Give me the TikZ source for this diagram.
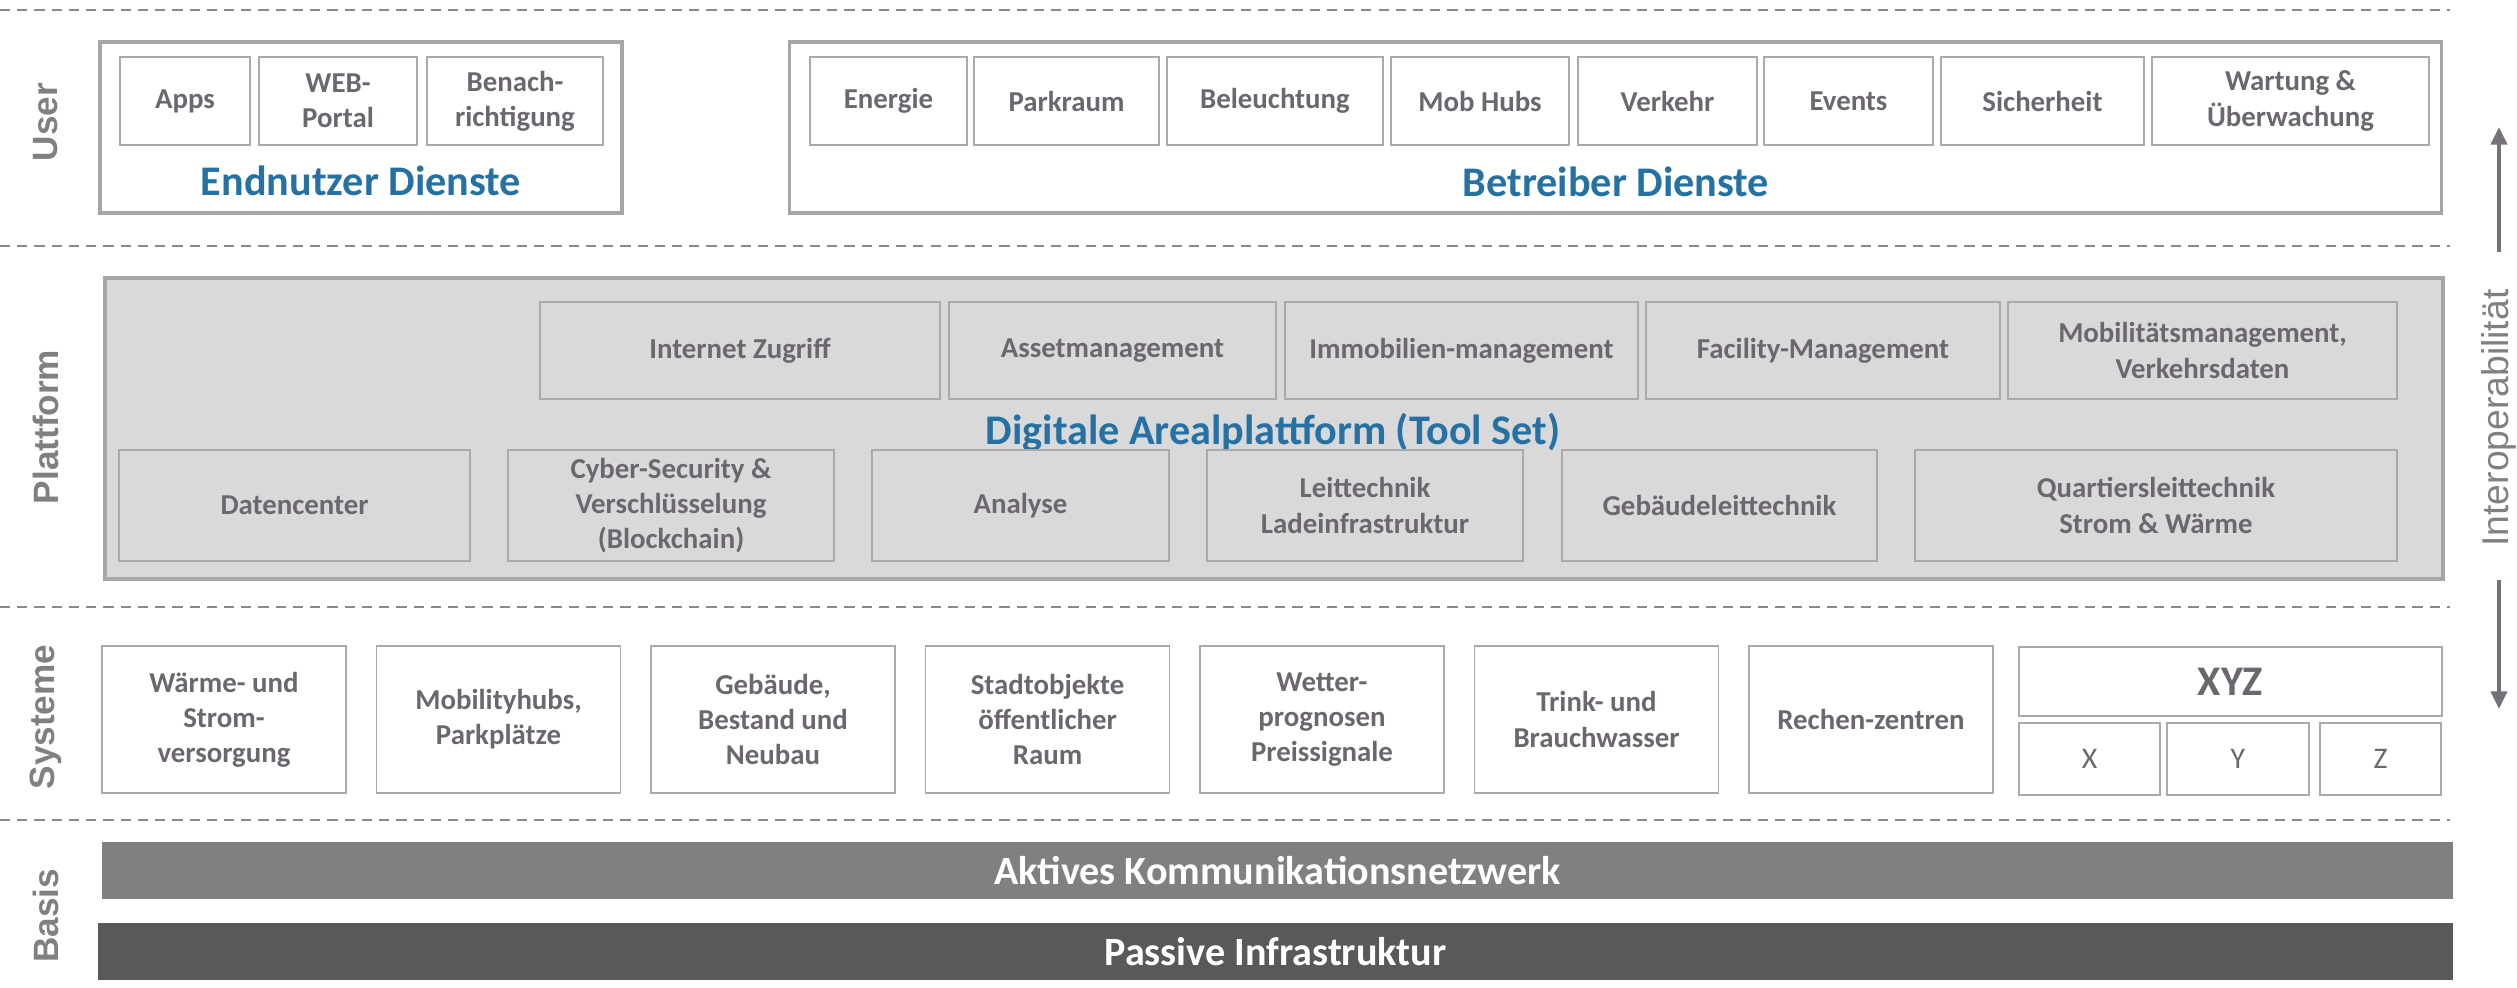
\documentclass[tikz,border=0pt]{standalone}
\usepackage{fontspec}
\setmainfont{Carlito}
\newfontfamily\arialfont{Liberation Sans}
\usetikzlibrary{arrows.meta}

\definecolor{txtgray}{RGB}{108,103,111}
\definecolor{framegray}{RGB}{166,166,166}
\definecolor{boxgray}{RGB}{170,170,170}
\definecolor{platfill}{RGB}{217,217,217}
\definecolor{headblue}{RGB}{38,113,163}
\definecolor{dashgray}{RGB}{137,137,137}
\definecolor{labelgray}{RGB}{128,128,128}
\definecolor{netgray}{RGB}{128,128,128}
\definecolor{infragray}{RGB}{89,89,89}
\definecolor{arrowgray}{RGB}{118,113,120}

\begin{document}
\begin{tikzpicture}[x=0.01cm,y=-0.01cm]
\tikzstyle{trenn}=[dashgray,line width=0.85pt,dash pattern=on 2.9pt off 2pt]
\tikzstyle{layerlabel}=[rotate=90,text=labelgray,font=\arialfont\bfseries\fontsize{10}{12}\selectfont]
\tikzstyle{outerbox}=[draw=framegray,line width=1.1pt,inner sep=0pt]
\tikzstyle{dienst}=[draw=boxgray,line width=0.5pt,fill=white,inner sep=0pt,align=center,text=txtgray,font=\bfseries\fontsize{8.2}{10}\selectfont]
\tikzstyle{tool}=[dienst,fill=platfill]
\tikzstyle{subbox}=[dienst,font=\fontsize{8.5}{10}\selectfont]
\tikzstyle{head}=[text=headblue,font=\bfseries\fontsize{12}{14}\selectfont]
\tikzstyle{bar}=[inner sep=0pt,text=white,font=\bfseries\fontsize{11.4}{13}\selectfont]
\tikzstyle{pfeil}=[arrowgray,line width=1.2pt,-{Triangle[length=5pt,width=4.5pt]}]

\useasboundingbox (0,0) rectangle (2517,988);

% layer separators
\foreach \yy in {10,246,607,820}
  \draw[trenn] (0,\yy) -- (2450,\yy);

\node[layerlabel] (lUser) at (46,122) {User};
\node[layerlabel] (lPlattform) at (46,427) {Plattform};
\node[layerlabel] (lSysteme) at (46,717) {Systeme};
\node[layerlabel] (lBasis) at (46,916) {Basis};

% user layer
\node[outerbox,minimum width=5.22cm,minimum height=1.71cm] (endnutzer) at (361,127.5) {};
\node[head] (endnutzerT) at (361,181) {Endnutzer Dienste};
\node[dienst,minimum width=1.30cm,minimum height=0.88cm] (apps) at (185,101) {Apps};
\node[dienst,minimum width=1.58cm,minimum height=0.88cm] (web) at (338,101) {WEB-\\Portal};
\node[dienst,minimum width=1.76cm,minimum height=0.88cm] (benach) at (515,101) {Benach-\\richtigung};

\node[outerbox,minimum width=16.51cm,minimum height=1.71cm] (betreiber) at (1615.5,127.5) {};
\node[head] (betreiberT) at (1616,182) {Betreiber Dienste};
\node[dienst,minimum width=1.57cm,minimum height=0.88cm] (energie) at (888.5,101) {Energie};
\node[dienst,minimum width=1.85cm,minimum height=0.88cm] (parkraum) at (1066.5,101) {Parkraum};
\node[dienst,minimum width=2.16cm,minimum height=0.88cm] (beleuchtung) at (1275,101) {Beleuchtung};
\node[dienst,minimum width=1.78cm,minimum height=0.88cm] (mobhubs) at (1480,101) {Mob Hubs};
\node[dienst,minimum width=1.79cm,minimum height=0.88cm] (verkehr) at (1667.5,101) {Verkehr};
\node[dienst,minimum width=1.69cm,minimum height=0.88cm] (events) at (1848.5,101) {Events};
\node[dienst,minimum width=2.03cm,minimum height=0.88cm] (sicherheit) at (2042.5,101) {Sicherheit};
\node[dienst,minimum width=2.77cm,minimum height=0.88cm] (wartung) at (2290.5,101) {Wartung \&\\Überwachung};

% platform layer
\node[outerbox,fill=platfill,minimum width=23.36cm,minimum height=3.01cm] (plattform) at (1274,428.5) {};
\node[head] (plattformT) at (1273,432) {Digitale Arealplattform (Tool Set)};
\node[tool,minimum width=4.00cm,minimum height=0.97cm] (internet) at (740,350.5) {Internet Zugriff};
\node[tool,minimum width=3.27cm,minimum height=0.97cm] (asset) at (1112.5,350.5) {Assetmanagement};
\node[tool,minimum width=3.53cm,minimum height=0.97cm] (immo) at (1461.5,350.5) {Immobilien-management};
\node[tool,minimum width=3.54cm,minimum height=0.97cm] (facility) at (1823,350.5) {Facility-Management};
\node[tool,minimum width=3.89cm,minimum height=0.97cm] (mobil) at (2202.5,350.5) {Mobilitätsmanagement,\\Verkehrsdaten};

\node[tool,minimum width=3.51cm,minimum height=1.11cm] (daten) at (294.5,505.5) {Datencenter};
\node[tool,minimum width=3.26cm,minimum height=1.11cm] (cyber) at (671,505.5) {Cyber-Security \&\\Verschlüsselung\\(Blockchain)};
\node[tool,minimum width=2.97cm,minimum height=1.11cm] (analyse) at (1020.5,505.5) {Analyse};
\node[tool,minimum width=3.16cm,minimum height=1.11cm] (leit) at (1365,505.5) {Leittechnik\\Ladeinfrastruktur};
\node[tool,minimum width=3.15cm,minimum height=1.11cm] (gebleit) at (1719.5,505.5) {Gebäudeleittechnik};
\node[tool,minimum width=4.82cm,minimum height=1.11cm] (quartier) at (2156,505.5) {Quartiersleittechnik\\Strom \& Wärme};

% systems layer
\node[dienst,minimum width=2.44cm,minimum height=1.47cm] (waerme) at (224,719.5) {Wärme- und\\Strom-\\versorgung};
\node[dienst,minimum width=2.44cm,minimum height=1.47cm] (mobility) at (498.5,719.5) {Mobilityhubs,\\Parkplätze};
\node[dienst,minimum width=2.44cm,minimum height=1.47cm] (gebaeude) at (773,719.5) {Gebäude,\\Bestand und\\Neubau};
\node[dienst,minimum width=2.44cm,minimum height=1.47cm] (stadt) at (1047.5,719.5) {Stadtobjekte\\öffentlicher\\Raum};
\node[dienst,minimum width=2.44cm,minimum height=1.47cm] (wetter) at (1322,719.5) {Wetter-\\prognosen\\Preissignale};
\node[dienst,minimum width=2.44cm,minimum height=1.47cm] (trink) at (1596.5,719.5) {Trink- und\\Brauchwasser};
\node[dienst,minimum width=2.44cm,minimum height=1.47cm] (rechen) at (1871,719.5) {Rechen-zentren};

\node[dienst,minimum width=4.23cm,minimum height=0.69cm,font=\bfseries\fontsize{12}{14}\selectfont] (xyz) at (2230.5,681.5) {XYZ};
\node[subbox,minimum width=1.41cm,minimum height=0.72cm] (xx) at (2089.5,759) {X};
\node[subbox,minimum width=1.42cm,minimum height=0.72cm] (yy) at (2238,759) {Y};
\node[subbox,minimum width=1.21cm,minimum height=0.72cm] (zz) at (2380.5,759) {Z};

% base layer
\node[bar,fill=netgray,minimum width=23.49cm,minimum height=0.57cm] (aktiv) at (1277.5,870.5) {Aktives Kommunikationsnetzwerk};
\node[bar,fill=infragray,minimum width=23.53cm,minimum height=0.57cm] (passiv) at (1275.5,951.5) {Passive Infrastruktur};

% interoperability
\node[rotate=90,text=labelgray,font=\arialfont\fontsize{10.6}{13}\selectfont] (interop) at (2499,418) {Interoperabilität};
\coordinate (upStart) at (2499,252);
\coordinate (upTip) at (2499,127);
\coordinate (downStart) at (2499,580);
\coordinate (downTip) at (2499,709);
\draw[pfeil] (upStart) -- (upTip);
\draw[pfeil] (downStart) -- (downTip);

\end{tikzpicture}
\end{document}
